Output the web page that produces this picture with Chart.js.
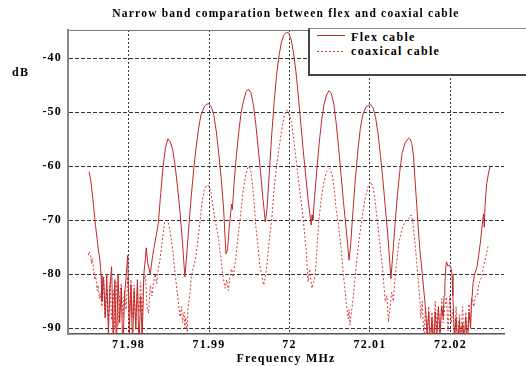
<!DOCTYPE html>
<html><head><meta charset="utf-8">
<script src="https://cdn.jsdelivr.net/npm/chart.js@4.4.1/dist/chart.umd.min.js"></script>
<style>
html,body{margin:0;padding:0;background:#fff;overflow:hidden;}
#wrap{position:relative;width:526px;height:366px;overflow:hidden;}
canvas{position:absolute;left:0;top:0;}
.lbl{position:absolute;font:bold 12px "Liberation Serif";letter-spacing:1.3px;color:#000;white-space:nowrap;line-height:12px;}
#legend{position:absolute;left:308px;top:28px;width:240px;height:45px;background:#fff;border:1px solid #888;border-left:2px solid #444;border-bottom:2px solid #444;}
#legend svg{position:absolute;left:0;top:0;}
</style></head><body>
<div id="wrap">
<canvas id="c" width="526" height="366"></canvas>
<div class="lbl" id="ylab" style="left:12px;top:66px;">dB</div>
<div id="legend">
  <svg width="40" height="40"><line id="l1" x1="7" y1="6.5" x2="35" y2="6.5" stroke-width="1"/><line id="l2" x1="7" y1="22.5" x2="35" y2="22.5" stroke-width="1" stroke-dasharray="2,2"/></svg>
  <div class="lbl" id="t1" style="left:41px;top:2px;"></div>
  <div class="lbl" id="t2" style="left:41px;top:16px;"></div>
</div>
</div>
<script>
const titleText = 'Narrow band comparation between flex and coaxial cable';
const xTitle = 'Frequency MHz';
const yTitle = 'dB';
const seriesNames = ['Flex cable', 'coaxical cable'];
const xTickValues = [71.98, 71.99, 72.00, 72.01, 72.02];
const xTickLabels = ['71.98', '71.99', '72', '72.01', '72.02'];
const yTickValues = [-40, -50, -60, -70, -80, -90];
const yTickLabels = ['-40', '-50', '-60', '-70', '-80', '-90'];
const xMin = 71.97248, xMax = 72.02665;
const yMin = -91.06, yMax = -34.76;

const flexFreq = [
71.9751,71.9753,71.9755,71.9757,71.9759,71.9761,71.9763,71.9764,71.9765,71.9766,
71.9767,71.9769,71.9771,71.9773,71.9775,71.9777,71.9779,71.9781,71.9783,71.9785,
71.9787,71.9789,71.9791,71.9793,71.9795,71.9797,71.9799,71.9801,71.9803,71.9805,
71.9807,71.9809,71.9811,71.9813,71.9815,71.9817,71.9819,71.9821,
71.9822,71.9824,71.9827,71.9830,71.9833,
71.9837,71.9840,71.9843,71.9846,71.9849,71.9852,71.9855,71.9858,71.9861,71.9864,
71.9867,71.9870,71.9872,71.9875,71.9878,71.9881,71.9884,71.9887,71.9890,71.9894,
71.9897,71.9900,71.9903,71.9906,71.9909,71.9912,71.9915,71.9918,71.9921,71.9923,
71.9925,71.9927,71.9928,71.9929,71.9931,71.9934,71.9937,71.9940,71.9943,71.9946,
71.9949,71.9952,71.9955,71.9958,71.9961,71.9964,71.9967,71.9970,71.9972,71.9975,
71.9978,71.9981,71.9984,71.9987,71.9990,71.9993,71.9996,71.9999,72.0002,72.0005,
72.0008,72.0011,72.0014,72.0017,72.0020,72.0023,72.0025,72.0027,72.0028,72.0029,
72.0031,72.0034,72.0037,72.0040,72.0043,72.0046,72.0049,72.0052,72.0055,72.0058,
72.0061,72.0064,72.0067,72.0070,72.0072,72.0074,72.0076,72.0079,72.0082,72.0085,
72.0088,72.0091,72.0095,72.0098,72.0101,72.0104,72.0107,72.0110,72.0113,72.0116,
72.0119,72.0122,72.0124,72.0126,72.0128,72.0131,72.0134,72.0137,72.0140,72.0144,
72.0148,72.0150,72.0152,72.0154,72.0156,72.0158,72.0160,72.0162,72.0165,72.0168,
72.0169,72.0171,72.0173,72.0175,72.0177,72.0179,72.0181,72.0183,72.0185,72.0187,
72.0189,72.0191,72.0192,72.0193,72.0194,72.0195,72.0197,72.0199,72.0201,72.0202,
72.0203,72.0205,72.0207,72.0209,72.0211,72.0213,72.0215,72.0217,72.0219,72.0221,
72.0223,72.0225,72.0226,72.0227,
72.0228,72.0230,72.0233,72.0235,72.0237,72.0239,72.0241,72.0242,72.0243,72.0245,
72.0247,72.0249
];
const flexDb = [
-61,-62.5,-65,-68,-71,-73.5,-76,-76.8,-78.5,-80.2,
-85,-80.5,-88,-80,-91,-82,-78.6,-93,-81,-94,
-80,-89,-82.5,-95,-84,-80.5,-76.5,-91,-82,-93,
-83,-90,-81,-94,-84,-92,-80,-77,
-75.1,-78,-79.9,-76.5,-74,
-70.6,-65,-60,-56.5,-54.9,-55.5,-57,-60,-64,-68.5,
-74,-80.5,-77,-71,-65.5,-60.5,-56.5,-53,-50.5,-49,
-48.5,-48.4,-49,-50.5,-53.5,-57.5,-62,-67.5,-76.2,-75.5,
-71.5,-68.5,-67,-68,-63.5,-58,-53.5,-50,-47.8,-46.2,
-45.7,-46.3,-48.5,-52,-56.5,-61,-66,-70.3,-68,-61,
-54,-48,-43,-39.5,-37,-35.7,-35.2,-35.3,-36.5,-39,
-42.5,-47,-52,-57,-61.5,-66,-68.5,-70.9,-69,-70,
-66,-60.5,-55.5,-51.5,-48.5,-46.8,-46,-46.5,-48.5,-52,
-56.5,-61.5,-66.5,-71,-74,-77.4,-74.5,-68,-62,-57,
-53,-50.5,-49,-48.7,-48.6,-49.2,-51,-54,-58,-62.5,
-67.5,-72.5,-76.5,-80.8,-77,-71,-65.5,-61,-57.5,-55.5,
-54.8,-55,-55.8,-58,-62.5,-67,-71.5,-75.5,-80,-84.8,
-86.5,-91,-87,-93,-88,-94,-87,-92,-86,-91,
-86,-88,-84,-82,-79,-77.7,-78.5,-78.3,-79,-80.2,
-84,-92,-88,-93,-88.5,-94,-89,-92,-88,-93,
-87,-90,-85,-84,
-81.7,-80,-78.6,-76.5,-74.3,-71.5,-68.8,-71.3,-67,-63.2,
-61.5,-60.1
];

const coaxFreq = [
71.9750,71.9751,71.9753,71.9754,71.9755,71.9757,71.9758,71.9759,71.9761,71.9762,
71.9764,71.9765,
71.9767,71.9769,71.9771,71.9773,71.9775,71.9777,71.9779,71.9781,71.9783,71.9785,
71.9787,71.9789,71.9791,71.9793,71.9795,71.9797,71.9799,71.9801,71.9803,71.9805,
71.9807,71.9809,71.9811,71.9813,71.9815,71.9817,71.9819,71.9821,71.9823,71.9825,
71.9827,
71.9829,71.9831,71.9833,71.9835,71.9837,71.9839,71.9841,
71.9843,71.9845,71.9847,71.9849,71.9851,71.9853,71.9855,71.9858,71.9861,71.9864,
71.9866,71.9867,71.9869,71.9870,71.9871,71.9873,71.9874,71.9876,71.9878,71.9880,
71.9883,71.9886,71.9889,71.9891,71.9894,71.9897,71.9899,71.9902,71.9905,71.9908,
71.9911,71.9914,71.9916,71.9918,71.9920,71.9922,71.9924,71.9926,71.9928,71.9930,
71.9933,71.9936,71.9939,71.9942,71.9945,71.9948,71.9950,71.9952,71.9954,71.9956,
71.9958,71.9961,71.9963,71.9966,71.9968,71.9970,71.9972,71.9975,71.9978,71.9981,
71.9984,71.9987,71.9990,71.9993,71.9996,71.9998,72.0001,72.0003,72.0007,72.0011,
72.0014,72.0017,72.0019,72.0021,72.0023,72.0025,72.0026,72.0028,72.0030,72.0032,
72.0034,72.0036,72.0039,72.0042,72.0046,72.0050,72.0053,72.0056,72.0058,72.0061,
72.0064,72.0067,72.0069,72.0071,72.0073,72.0074,72.0075,72.0077,72.0079,72.0081,
72.0083,72.0086,72.0090,72.0094,72.0098,72.0101,72.0104,72.0106,72.0109,72.0112,
72.0115,72.0117,72.0119,72.0121,72.0123,72.0125,72.0127,72.0129,72.0131,72.0133,
72.0136,72.0140,72.0144,72.0148,72.0151,72.0153,72.0156,72.0159,72.0162,
72.0163,72.0165,72.0167,72.0169,72.0171,72.0173,72.0175,72.0177,72.0179,72.0181,
72.0183,72.0185,72.0187,72.0189,72.0191,72.0193,72.0195,72.0197,72.0199,72.0201,
72.0203,72.0205,72.0207,72.0209,72.0211,72.0213,72.0215,72.0217,72.0219,72.0221,
72.0223,72.0225,72.0227,
72.0229,72.0231,72.0233,72.0235,72.0237,72.0239,72.0241,72.0243,72.0245,72.0247
];
const coaxDb = [
-76.5,-75.8,-76.5,-78,-77,-79.5,-81,-80,-83,-82,
-84.5,-83.5,
-86,-80.5,-88,-83,-89,-81.5,-88.5,-83,-90,-81.5,
-89.5,-84,-81.7,-88,-83,-86.5,-80.5,-87,-81,-88,
-82,-90,-83,-87,-81.5,-88.5,-81,-80.2,-86,-87.2,
-82,
-84,-81.7,-80,-81.7,-79,-77.4,-75,
-72.5,-70.3,-70,-70.2,-71.5,-73.5,-75.6,-80,-84,-87.9,
-86,-89,-87,-90,-88,-90.7,-86,-84,-80.5,-79,
-77.4,-74,-70,-67,-64.5,-63.5,-63.5,-64.5,-67.5,-70.3,
-72.5,-76,-78.5,-81,-82.6,-81,-83,-80.5,-79,-80.5,
-77.4,-73,-69.4,-65,-62,-60.3,-60,-61,-63.5,-66.5,
-71,-75,-78.3,-80.5,-82,-80.5,-78.3,-73.5,-69.7,-64,
-59.8,-56.5,-53.6,-51,-49.6,-49.8,-51,-52.4,-57.3,-62.3,
-66,-69.7,-73,-76,-81.4,-79,-80.5,-82.6,-81.5,-80,
-75.5,-70.9,-66.5,-63.5,-61,-60.4,-61.5,-64.8,-68,-71,
-75,-80.2,-83,-86,-88.2,-86.5,-89.4,-87,-84.5,-81.5,
-78.3,-74,-69.7,-66,-63.5,-62.9,-64,-66,-70,-74,
-78,-81.5,-85.1,-84,-88.8,-86,-83.3,-85,-81,-78,
-74,-71.5,-70.2,-69.7,-69,-70,-74.3,-79.5,-84.8,
-88,-85,-92,-86,-93,-86,-94,-87,-92,-85,
-90,-86,-93,-84.5,-89,-86,-84.2,-90.5,-84,-89,
-86.5,-93,-86,-94,-87.5,-92,-86,-93,-87,-92.5,
-85.5,-89,-84.5,
-86,-84,-84,-82,-81,-80.5,-78.5,-77.4,-76,-74.6
];

const flexColor = 'rgb(192,40,40)';
const coaxColor = 'rgb(214,56,56)';

document.getElementById('l1').setAttribute('stroke', flexColor);
document.getElementById('l2').setAttribute('stroke', coaxColor);
document.getElementById('t1').textContent = seriesNames[0];
document.getElementById('t2').textContent = seriesNames[1];
document.getElementById('ylab').textContent = yTitle;

const spacing = {
  id: 'spacing',
  beforeUpdate(c){ c.ctx.letterSpacing = '1.2px'; },
  beforeLayout(c){ c.ctx.letterSpacing = '1.2px'; },
  beforeDraw(c){ c.ctx.letterSpacing = '1.2px'; }
};

const font12 = {family: 'Liberation Serif', size: 12, weight: 'bold'};

new Chart(document.getElementById('c'), {
  type: 'line',
  data: {
    datasets: [
      {label: seriesNames[0], data: flexFreq.map((f, i) => ({x: f, y: flexDb[i]})),
       borderColor: flexColor, borderWidth: 1, pointRadius: 0, tension: 0, fill: false},
      {label: seriesNames[1], data: coaxFreq.map((f, i) => ({x: f, y: coaxDb[i]})),
       borderColor: coaxColor, borderWidth: 1, borderDash: [2, 2], pointRadius: 0, tension: 0, fill: false}
    ]
  },
  options: {
    responsive: false, animation: false, devicePixelRatio: 1,
    layout: {padding: {left: 0, right: 22, top: 0, bottom: 0}},
    plugins: {
      legend: {display: false}, tooltip: {enabled: false},
      title: {display: true, text: titleText, fullSize: false, color: '#000',
              font: {family: 'Liberation Serif', size: 11.5, weight: 'bold', lineHeight: 1.2},
              padding: {top: 7.5, bottom: 8.7}}
    },
    scales: {
      x: {
        type: 'linear', min: xMin, max: xMax,
        afterBuildTicks: s => { s.ticks = xTickValues.map(v => ({value: v})); },
        afterFit: s => { s.height = 32; },
        ticks: {callback: (v, i) => xTickLabels[i], font: font12, color: '#000', padding: 4, maxRotation: 0, autoSkip: false},
        grid: {color: '#333', lineWidth: 1, drawTicks: false},
        border: {display: true, color: '#555', width: 1.5, dash: [2, 2]},
        title: {display: true, text: xTitle, font: font12, color: '#000', padding: {top: 0, bottom: 0}}
      },
      top: {
        type: 'linear', position: 'top', min: xMin, max: xMax, display: true,
        afterFit: s => { s.height = 0; },
        ticks: {display: false}, grid: {display: false, drawTicks: false},
        border: {display: true, color: '#777', width: 1}
      },
      y: {
        min: yMin, max: yMax,
        afterBuildTicks: s => { s.ticks = yTickValues.map(v => ({value: v})); },
        afterFit: s => { s.width = 68; },
        ticks: {callback: (v, i) => yTickLabels[i], font: font12, color: '#000', padding: 6},
        grid: {color: '#333', lineWidth: 1, drawTicks: false},
        border: {display: true, color: '#888', width: 2, dash: [4, 2]}
      }
    }
  },
  plugins: [spacing]
});
</script>
</body></html>
